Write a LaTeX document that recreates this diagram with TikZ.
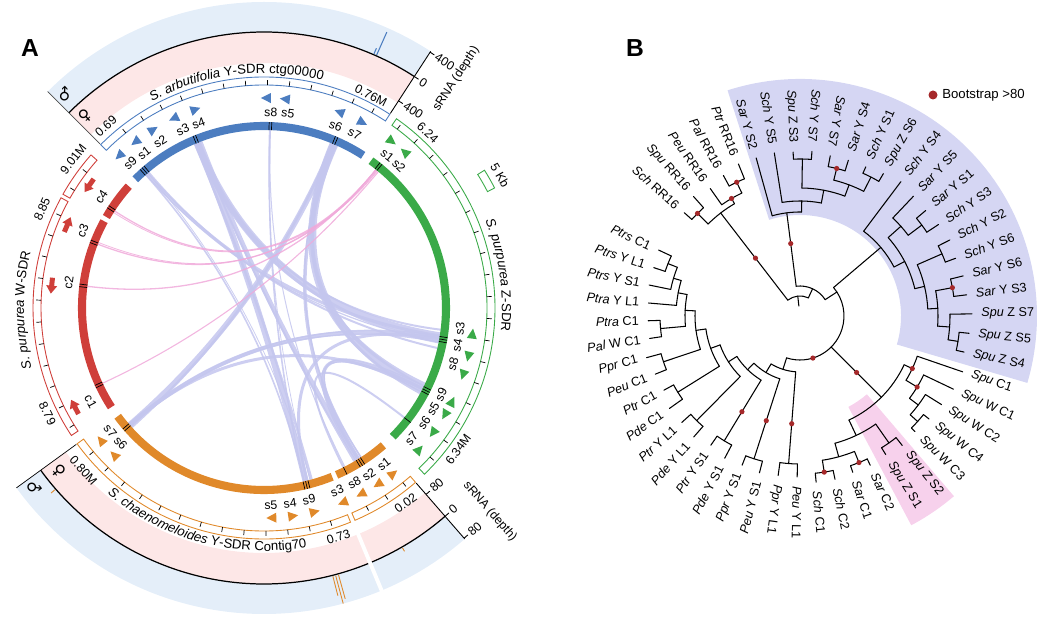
\documentclass[tikz,border=0pt]{standalone}
\usepackage{fontspec}
\setmainfont{Liberation Sans}
\newfontfamily\symfont{DejaVu Sans}
\usetikzlibrary{decorations.text}
\definecolor{segblue}{RGB}{76,125,192}
\definecolor{seggreen}{RGB}{58,170,72}
\definecolor{segred}{RGB}{207,63,58}
\definecolor{segorange}{RGB}{224,137,42}
\definecolor{chordlav}{RGB}{196,198,238}
\definecolor{chordpink}{RGB}{240,170,218}
\definecolor{trkpink}{RGB}{253,231,231}
\definecolor{trkblue}{RGB}{228,238,249}
\definecolor{secblue}{RGB}{213,214,243}
\definecolor{secpink}{RGB}{247,209,236}
\definecolor{bootred}{RGB}{165,40,42}
\tikzset{
  panel/.style={font=\fontsize{14}{14}\selectfont\bfseries},
  lab/.style={font=\fontsize{7}{8}\selectfont,inner sep=0.5pt},
  tiplab/.style={font=\fontsize{7.2}{8}\selectfont,inner sep=0pt},
  branch/.style={line width=0.6pt,line cap=round},
  boxring/.style={line width=0.5pt},
}
\begin{document}
\begin{tikzpicture}[x=0.2mm,y=0.2mm]
\useasboundingbox (0,0) rectangle (1053,623);
\node[panel] (lblA) at (30,575) {A};
\node[panel] (lblB) at (635,575) {B};

%% A: circos view of the SDRs
\begin{scope}[shift={(264,315)}]
  % sRNA depth tracks
  \foreach \a/\b in {57/135,216/311}{
    \fill[trkpink] (\a:245) arc[start angle=\a,end angle=\b,radius=245] -- (\b:276) arc[start angle=\b,end angle=\a,radius=276] -- cycle;
    \fill[trkblue] (\a:276) arc[start angle=\a,end angle=\b,radius=276] -- (\b:306) arc[start angle=\b,end angle=\a,radius=306] -- cycle;
    \draw[line width=0.7pt] (\a:276) arc[start angle=\a,end angle=\b,radius=276];
  }
  \draw[white,line width=2.2pt] (292.6:238) -- (292.6:308);
  \draw[segblue,line width=0.6pt] (66:277) -- (66:302) (66.6:277) -- (66.6:283);
  \draw[segorange,line width=0.5pt] (284.4:277) -- (284.4:297) (285:277) -- (285:306) (285.6:277) -- (285.6:302)
    (221:277) -- (221:282) (300:277) -- (300:281);
  \draw[black!70,line width=0.4pt] (135:232) -- (135:306);
  \draw[line width=0.4pt] (216:232) -- (216:306);
  \draw[line width=0.5pt] (57:232) -- (57:306) (311:232) -- (311:306);
  \foreach \r/\v in {305/400,276/0,247/400}{
    \draw[line width=0.5pt] (57:\r) -- ++(-33:5);
    \node[lab,rotate=-33,anchor=west] (ax\r) at ([shift={(-33:6)}]57:\r) {\v};
  }
  \foreach \r/\v in {305/80,276/0,247/80}{
    \draw[line width=0.5pt] (311:\r) -- ++(41:5);
    \node[lab,rotate=41,anchor=west] (bx\r) at ([shift={(41:6)}]311:\r) {\v};
  }
  \node[lab,rotate=57] (srnaT) at (50:299) {sRNA (depth)};
  \node[lab,rotate=-49] (srnaB) at (318:304) {sRNA (depth)};
  \foreach \a/\r/\s [count=\k] in {133/262/♀,133/292/♂,218.6/262/♀,218/292/♂}{
    \pgfmathsetmacro\rot{(\a>0)&&(\a<180) ? \a-90 : \a+90}
    \node[font=\symfont\fontsize{9}{9}\selectfont,inner sep=0pt,rotate=\rot] (sex\k) at (\a:\r) {\s};
  }
  % scale boxes, one tick per 5 Kb
  \foreach \a/\b/\c in {57/135/segblue,-46/55/seggreen,138.5/150.5/segred,151.5/213.5/segred,216/292/segorange,293.2/311/segorange}{
    \draw[\c,boxring] (\a:223) arc[start angle=\a,end angle=\b,radius=223] -- (\b:231) arc[start angle=\b,end angle=\a,radius=231] -- cycle;
    \pgfmathtruncatemacro\nt{(\b-\a)/5.6}
    \foreach \i in {1,...,\nt} \draw[line width=0.4pt] (\a+5.6*\i-1.5:223) -- (\a+5.6*\i-1.5:228);
  }
  \draw[seggreen,boxring] (27.5:252) arc[start angle=27.5,end angle=32,radius=252] -- (32:260) arc[start angle=32,end angle=27.5,radius=260] -- cycle;
  \node[lab,rotate=-60] (kb) at (29.4:271) {5 Kb};
  % links
  \foreach \a/\b/\w/\c in {131/-9/3/chordlav,130.4/-13/2/chordlav,131.6/283/1.6/chordlav,131.5/-11/1.2/chordlav,130.8/285/0.8/chordlav,
      112/-9/7/chordlav,112/283.5/6/chordlav,111/301.5/4.5/chordlav,112.5/-11/3/chordlav,111.5/-7/2/chordlav,112.8/285.5/2.5/chordlav,111.8/300.5/2/chordlav,
      88/283/1.6/chordlav,88/297/1/chordlav,88.3/285/0.8/chordlav,
      67/-27/8/chordlav,67/221/5.5/chordlav,66/302/3.5/chordlav,67.5/-25.5/4/chordlav,66.5/-28.5/3/chordlav,67.3/222/2.5/chordlav,66.8/303/1.5/chordlav,
      221/-10/4/chordlav,221/-27/3/chordlav,220.6/-9/1.5/chordlav,221.4/-11/1.5/chordlav,
      -27/302/3.5/chordlav,-10/284/3/chordlav,-38/296.5/2/chordlav,-26/303/1.5/chordlav,-28/301/1.2/chordlav,
      51/147/1.3/chordpink,51/159/1.3/chordpink,51/173/1.3/chordpink,50/205/1.1/chordpink,50.4/147.6/0.8/chordpink,50.6/158.4/0.8/chordpink}
    \draw[\c,line width=\w*0.57pt,opacity=0.85] (\a:178) .. controls (\a:59) and (\b:59) .. (\b:178);
  % SDR segments
  \foreach \a/\b/\c in {57/135/segblue,-45/54/seggreen,138/150/segred,151.5/213/segred,216.5/292/segorange,293.5/311/segorange}
    \draw[\c,line width=4.6pt] (\a:182) arc[start angle=\a,end angle=\b,radius=182];
  \foreach \m in {130.2,131,131.8,111.6,112.4,87.6,88.4,66.6,67.4,50.6,51.4,-9.2,-10,-10.8,-26.2,-27,-27.8,-38,
      146.6,147.4,158.6,159.4,172.6,173.4,204.6,205.4,220.6,221.4,282.7,283.5,284.3,301.2,302,302.8,296.5}
    \draw[line width=0.4pt] (\m:178) -- (\m:186);
  % genes
  \foreach \a/\d/\c in {133.6/1/segblue,127.8/1/segblue,121.8/-1/segblue,115.5/1/segblue,109/-1/segblue,89.5/1/segblue,84.3/1/segblue,69/1/segblue,62/-1/segblue,
      52.5/-1/seggreen,48/1/seggreen,-7/1/seggreen,-13.4/-1/seggreen,-18.6/-1/seggreen,-26.4/1/seggreen,-30.6/-1/seggreen,-36.5/-1/seggreen,-42.3/1/seggreen,
      219/-1/segorange,224.4/-1/segorange,272/-1/segorange,278/1/segorange,284/1/segorange,292/-1/segorange,297.5/-1/segorange,302.8/-1/segorange,308/1/segorange}
    \fill[\c,rotate=\a] (205,-5*\d) -- (215,-5*\d) -- (210,5*\d) -- cycle;
  \foreach \a/\d in {145/1,157/-1,174/1,207.6/-1}
    \fill[segred,rotate=\a] (211,-8*\d) -- (216,-8*\d) -- (216,0) -- (219,0) -- (213.5,8*\d) -- (208,0) -- (211,0) -- cycle;
  \foreach \a/\r/\s [count=\k] in {132.8/197/s9,127.7/196/s1,122/196/s2,114.5/196/s3,109.5/196/s4,88/196/s8,83/196/s5,68.5/196/s6,62.5/196/s7,
      51/196/s1,46.5/196/s2,-6/197/s3,-11/197/s4,-16.4/197/s8,-26/197/s9,-30.8/197/s5,-35.6/197/s6,-41.5/197/s7,
      145.6/197/c4,157/197/c3,172.7/197/c2,208.4/197/c1,
      218.7/197/s7,223.3/197/s6,272/197/s5,277.6/197/s4,283.2/197/s9,291.8/197/s3,297.3/197/s8,302.2/197/s2,307.5/197/s1,
      131/241/0.69,63.3/238/0.76M,47/240/6.24,-36/240/6.34M,142/242/9.01M,156/243/8.85,206/241/8.79,222/243/0.80M,288/241/0.73,306/241/0.02}{
    \pgfmathsetmacro\rot{(\a>0)&&(\a<180) ? \a-90 : \a+90}
    \node[lab,rotate=\rot] (ga\k) at (\a:\r) {\s};
  }
  % segment titles
  \path[decorate,decoration={text along path,text align=center,
    text={|\fontsize{7.5}{9}\selectfont\itshape|S. arbutifolia |\fontsize{7.5}{9}\selectfont|Y-SDR ctg00000}}]
    (125:235) arc[start angle=125,end angle=69,radius=235];
  \path[decorate,decoration={text along path,text align=center,
    text={|\fontsize{7.5}{9}\selectfont\itshape|S. chaenomeloides |\fontsize{7.5}{9}\selectfont|Y-SDR Contig70}}]
    (220:243) arc[start angle=220,end angle=290,radius=243];
  \path[decorate,decoration={text along path,text align=center,
    text={|\fontsize{7.5}{9}\selectfont\itshape|S. purpurea |\fontsize{7.5}{9}\selectfont|W-SDR}}]
    (196:240) arc[start angle=196,end angle=165,radius=240];
  \path[decorate,decoration={text along path,text align=center,
    text={|\fontsize{7.5}{9}\selectfont\itshape|S. purpurea |\fontsize{7.5}{9}\selectfont|Z-SDR}}]
    (25:238) arc[start angle=25,end angle=-9,radius=238];
\end{scope}

%% B: circular gene tree
\begin{scope}[shift={(800,307)}]
  \fill[secblue] (-16.4:101) arc[start angle=-16.4,end angle=107.8,radius=101] -- (107.8:237) arc[start angle=107.8,end angle=-16.4,radius=237] -- cycle;
  \fill[secpink] (-62:103) arc[start angle=-62,end angle=-49.5,radius=103] -- (-49.5:237) arc[start angle=-49.5,end angle=-62,radius=237] -- cycle;
  % internal nodes: radius/first child/last child
  \foreach \r/\a/\b in {148/112.05/118.6,136/115.33/125.15,145/131.7/138.25,130/120.24/134.98,
      156/59.65/66.2,152/72.75/79.3,140/62.93/76.03,157/85.85/92.4,128/69.48/89.13,115/79.3/98.95,104/89.13/105.5,
      160/-12.4/-5.85,150/-9.13/0.7,155/7.25/13.8,138/-4.21/10.53,155/20.35/26.9,128/3.16/23.63,152/33.45/40,135/36.73/46.55,118/13.39/41.64,106/27.51/53.1,
      158/-45.15/-38.6,148/-41.88/-32.05,137/-36.96/-25.5,124/-31.23/-18.95,
      158/-84.45/-77.9,158/-71.35/-64.8,146/-81.18/-68.08,155/-58.25/-51.7,132/-74.63/-54.98,115/-64.8/-25.09,
      142/155/161.7,132/158.35/168.4,124/163.38/175.1,140/181.8/188.5,115/169.24/185.15,144/195.2/201.9,105/177.2/198.55,144/208.6/215.3,
      95/187.87/211.95,147/222/228.7,85/199.91/225.35,146/235.4/242.1,75/212.63/238.75,150/248.8/255.5,66/225.69/252.15,148/262.2/269,56/238.92/265.6,
      44/-107.74/40.31,30/33/97.31,20/65.2/127.6}
    \draw[branch] (\a:\r) arc[start angle=\a,end angle=\b,radius=\r];
  % stems: angle/parent radius/node radius
  \foreach \a/\r/\s in {115.33/136/148,120.24/130/136,134.98/130/145,127.6/20/130,
      62.93/140/156,76.03/140/152,69.48/128/140,89.13/128/157,79.3/115/128,89.13/104/115,97.31/30/104,
      -9.13/150/160,-4.21/138/150,10.53/138/155,3.16/128/138,23.63/128/155,13.39/118/128,36.73/135/152,41.64/118/135,27.51/106/118,40.31/44/106,
      -41.88/148/158,-36.96/137/148,-31.23/124/137,-25.09/115/124,
      -81.18/146/158,-68.08/146/158,-74.63/132/146,-54.98/132/155,-64.8/115/132,-44.95/44/115,
      158.35/132/142,163.38/124/132,169.24/115/124,185.15/115/140,177.2/105/115,198.55/105/144,187.87/95/105,211.95/95/144,
      199.91/85/95,225.35/85/147,212.63/75/85,238.75/75/146,225.69/66/75,252.15/66/150,238.92/56/66,265.6/56/148,252.26/44/56,
      33/30/44,65.2/20/30,96.4/10/20}
    \draw[branch] (\a:\r) -- (\a:\s);
  % leaves
  \foreach \a/\r/\s/\gn/\rest [count=\k] in {-91/148/161/Peu/Y L1,
      -84.45/158/167/Sch/C1,-77.9/158/167/Sch/C2,-71.35/158/165/Sar/C1,-64.8/158/165/Sar/C2,
      -58.25/155/163/Spu/Z S1,-51.7/155/165/Spu/Z S2,
      -45.15/158/163/Spu/W C3,-38.6/158/165/Spu/W C4,-32.05/148/167/Spu/W C2,-25.5/137/170/Spu/W C1,-18.95/124/172/Spu/C1,
      -12.4/160/168/Spu/Z S4,-5.85/160/170/Spu/Z S5,0.7/150/172/Spu/Z S7,
      7.25/155/168/Sar/Y S3,13.8/155/168/Sar/Y S6,20.35/155/166/Sch/Y S6,26.9/155/168/Sch/Y S2,
      33.45/152/166/Sch/Y S3,40/152/164/Sar/Y S1,46.55/135/165/Sar/Y S5,53.1/106/168/Sch/Y S4,
      59.65/156/165/Spu/Z S6,66.2/156/163/Sch/Y S1,72.75/152/163/Sar/Y S4,79.3/152/163/Sar/Y S7,
      85.85/157/165/Sch/Y S7,92.4/157/164/Spu/Z S3,98.95/115/165/Sch/Y S5,105.5/104/164/Sar/Y S2,
      112.05/148/164/Ptr/RR16,118.6/148/160/Pal/RR16,125.15/136/156/Peu/RR16,131.7/145/160/Spu/RR16,138.25/145/155/Sch/RR16,
      155/142/156/Ptrs/C1,161.7/142/154/Ptrs/Y L1,168.4/132/154/Ptrs/Y S1,175.1/124/152/Ptra/Y L1,
      181.8/140/152/Ptra/C1,188.5/140/152/Pal/W C1,195.2/144/159/Ppr/C1,201.9/144/156/Peu/C1,
      208.6/144/155/Ptr/C1,215.3/144/160/Pde/C1,222/147/159/Ptr/Y L1,228.7/147/161/Pde/Y L1,
      235.4/146/157/Ptr/Y S1,242.1/146/161/Pde/Y S1,248.8/150/160/Ppr/Y S1,255.5/150/162/Peu/Y S1,262.2/148/161/Ppr/Y L1}{
    \draw[branch] (\a:\r) -- (\a:\s);
    \pgfmathtruncatemacro\isr{((\a>-102)&&(\a<76))||(\a>258) ? 1 : 0}
    \ifnum\isr=1
      \node[tiplab,rotate=\a,anchor=west] (leaf\k) at (\a:\s+9) {\textit{\gn} \rest};
    \else
      \node[tiplab,rotate=\a-180,anchor=east] (leaf\k) at (\a:\s+9) {\textit{\gn} \rest};
    \fi
  }
  % bootstrap > 80
  \foreach \a/\r in {115.33/148,120.24/136,134.98/145,127.6/73,97.31/73,76.03/152,10.53/155,-73/44,-44.95/80,
      -25.09/124,-31.23/137,-81.18/158,-68.08/158,238.75/112,252.15/110,265.6/108}
    \fill[bootred] (\a:\r) circle (2.6);
\end{scope}
\node[circle,fill=bootred,inner sep=0pt,minimum size=1.8mm] (bdot) at (933,528) {};
\node[anchor=west,font=\fontsize{7.5}{9}\selectfont,inner sep=0pt] (blab) at (942,528) {Bootstrap >80};
\end{tikzpicture}
\end{document}
